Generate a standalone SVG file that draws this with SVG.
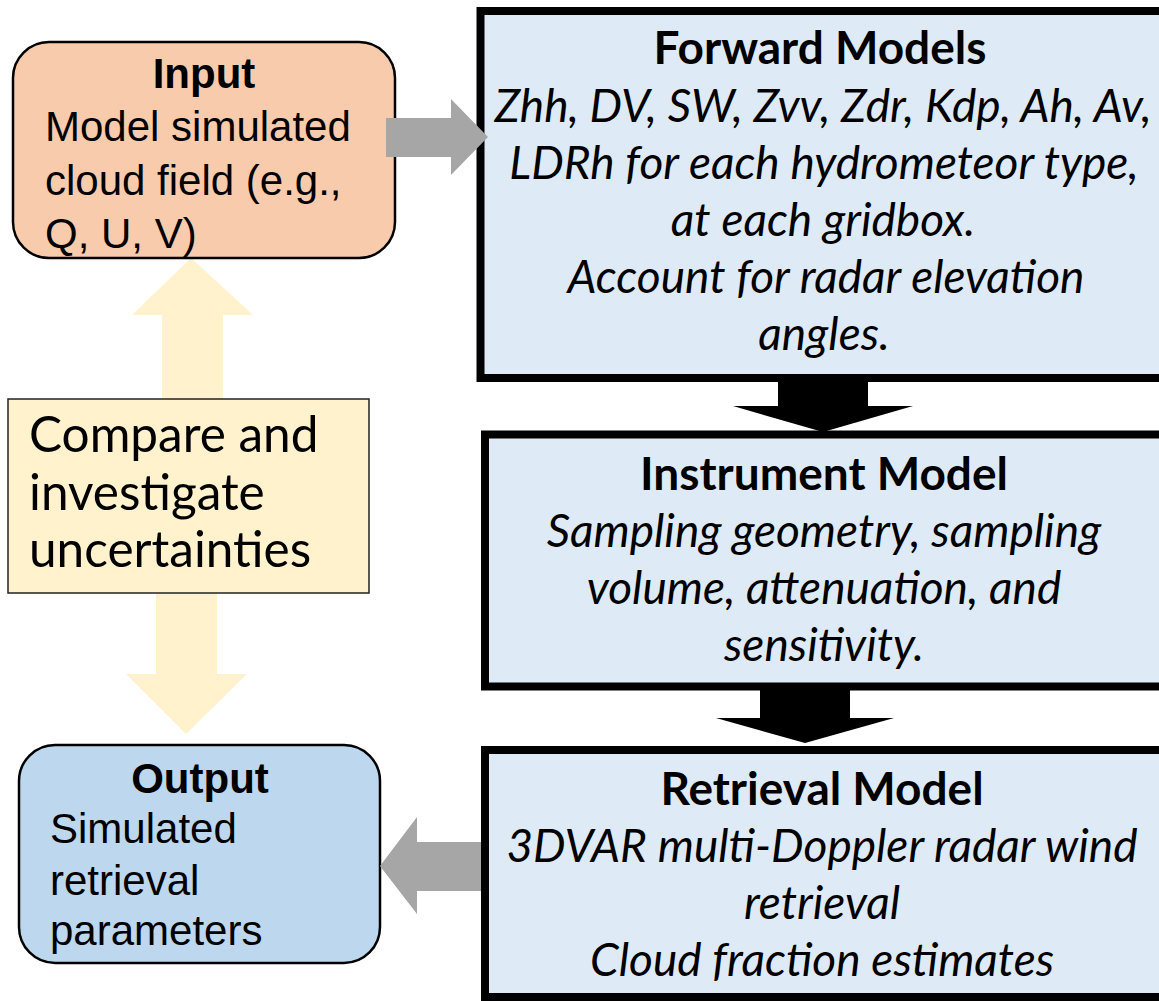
<svg xmlns="http://www.w3.org/2000/svg" width="1159" height="1001" viewBox="0 0 1159 1001">
  <style>
    .arial { font-family: "Liberation Sans", Arial, sans-serif; font-size: 42px; fill: #000; }
    .cal { font-family: Lato, "Open Sans", sans-serif; fill: #000; }
    .title { font-size: 46px; font-weight: bold; text-anchor: middle; }
    .body { font-size: 46px; font-style: italic; text-anchor: middle; }
    .model { fill: #DEEBF7; stroke: #000; stroke-width: 8; }
    .grey { fill: #A6A6A6; }
    .pale { fill: #FFF2CC; }
  </style>
  <rect width="1159" height="1001" fill="#fff"/>

  <!-- connectors -->
  <g id="connectors">
    <!-- two-way comparison arrows -->
    <polygon class="pale" points="191,258 253,315 223,315 223,400 162,400 162,315 132,315"/>
    <polygon class="pale" points="156,593 217,593 217,674 247,674 186,734 126,674 156,674"/>
    <!-- model chain arrows -->
    <polygon fill="#000" points="778,380 868,380 868,406 913,406 823,432 733,406 778,406"/>
    <polygon fill="#000" points="760,688 850,688 850,718 894,718 805,743 716,718 760,718"/>
  </g>

  <g id="input">
    <rect x="13" y="42" width="382" height="216" rx="36" fill="#F8CBAD" stroke="#000" stroke-width="2.5"/>
    <text class="arial" x="204" y="88" font-weight="bold" text-anchor="middle">Input</text>
    <text class="arial" x="45" y="141">Model simulated</text>
    <text class="arial" x="45" y="195">cloud field (e.g.,</text>
    <text class="arial" x="45" y="248">Q, U, V)</text>
  </g>

  <g id="compare">
    <rect x="8" y="399" width="361" height="194" fill="#FFF2CC" stroke="#222" stroke-width="1.5"/>
    <text class="cal" font-size="49.5" x="29" y="452">Compare and</text>
    <text class="cal" font-size="49.5" x="29" y="510">investigate</text>
    <text class="cal" font-size="49.5" x="29" y="567">uncertainties</text>
  </g>

  <g id="output">
    <rect x="19" y="745" width="361" height="218" rx="36" fill="#BDD7EE" stroke="#000" stroke-width="2.5"/>
    <text class="arial" x="200" y="793" font-weight="bold" text-anchor="middle">Output</text>
    <text class="arial" x="50" y="843">Simulated</text>
    <text class="arial" x="50" y="895">retrieval</text>
    <text class="arial" x="50" y="945">parameters</text>
  </g>

  <g id="forward-models">
    <rect class="model" x="480.5" y="11" width="690" height="367"/>
    <text class="cal title" x="820" y="64">Forward Models</text>
    <text class="cal body" x="823" y="122">Zhh, DV, SW, Zvv, Zdr, Kdp, Ah, Av,</text>
    <text class="cal body" x="824" y="179">LDRh for each hydrometeor type,</text>
    <text class="cal body" x="823" y="236">at each gridbox.</text>
    <text class="cal body" x="826" y="293">Account for radar elevation</text>
    <text class="cal body" x="824" y="350">angles.</text>
  </g>

  <g id="instrument-model">
    <rect class="model" x="485" y="434.5" width="686" height="252"/>
    <text class="cal title" x="824" y="490">Instrument Model</text>
    <text class="cal body" x="824" y="547">Sampling geometry, sampling</text>
    <text class="cal body" x="824" y="604">volume, attenuation, and</text>
    <text class="cal body" x="824" y="661">sensitivity.</text>
  </g>

  <g id="retrieval-model">
    <rect class="model" x="485" y="750" width="686" height="247"/>
    <text class="cal title" x="822" y="805">Retrieval Model</text>
    <text class="cal body" x="822" y="862">3DVAR multi-Doppler radar wind</text>
    <text class="cal body" x="822" y="919">retrieval</text>
    <text class="cal body" x="822" y="976">Cloud fraction estimates</text>
  </g>

  <!-- side arrows drawn over the box borders -->
  <g id="side-arrows">
    <polygon class="grey" points="386,118 451,118 451,99 488,137 451,175 451,157 386,157"/>
    <polygon class="grey" points="481,842 417,842 417,817 380,866 417,914 417,891 481,891"/>
  </g>
</svg>
